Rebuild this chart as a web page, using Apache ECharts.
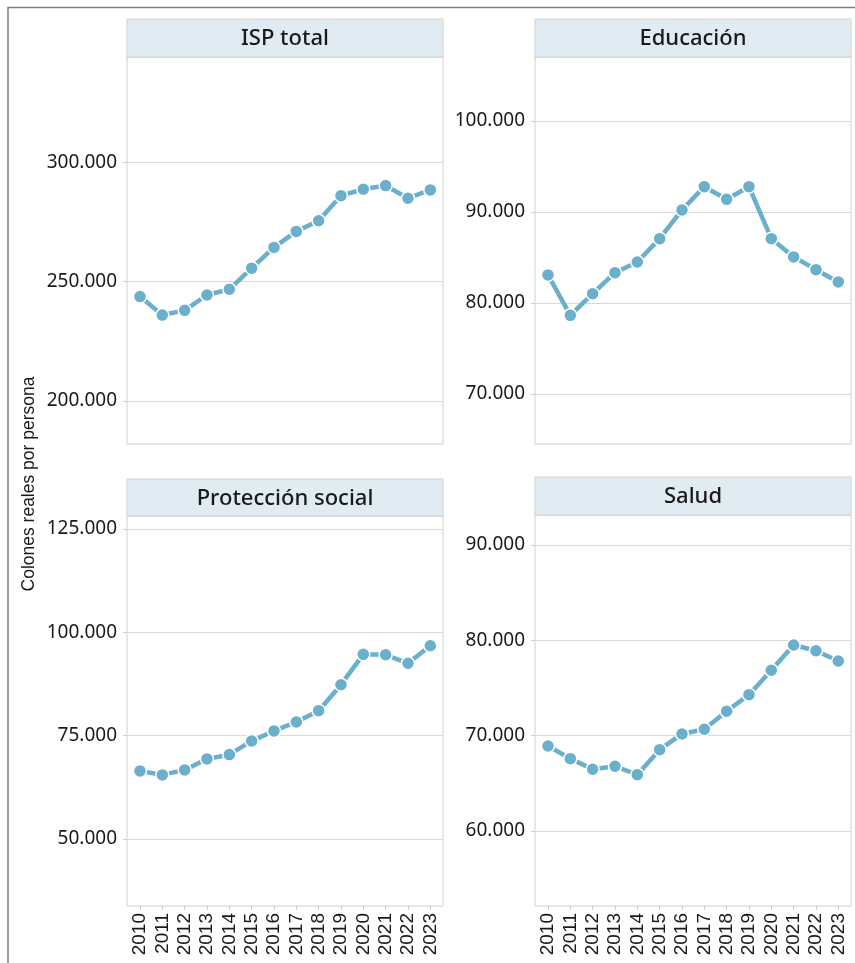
<!DOCTYPE html>
<html>
<head>
<meta charset="utf-8">
<script src="https://cdn.jsdelivr.net/npm/echarts@6/dist/echarts.min.js"></script>
<style>
  html, body { margin: 0; padding: 0; background: #fff; }
  #chart { width: 855px; height: 963px; }
</style>
</head>
<body>
<div id="chart"></div>
<script>
// datos
const years = [2010, 2011, 2012, 2013, 2014, 2015, 2016, 2017, 2018, 2019, 2020, 2021, 2022, 2023];
const ispTotal = [243700, 235970, 237940, 244370, 246770, 255590, 264290, 271000, 275460, 285970, 288650, 290170, 284870, 288360];
const educacion = [83080, 78640, 81020, 83330, 84500, 87070, 90220, 92780, 91390, 92780, 87070, 85060, 83660, 82310];
const proteccion = [66470, 65500, 66710, 69370, 70410, 73720, 76140, 78310, 81040, 87330, 94680, 94580, 92510, 96760];
const salud = [68920, 67590, 66480, 66790, 65910, 68530, 70180, 70670, 72560, 74300, 76860, 79510, 78910, 77830];

const titles = ['ISP total', 'Educación', 'Protección social', 'Salud'];
const ticksIsp = [200000, 250000, 300000];
const ticksEdu = [70000, 80000, 90000, 100000];
const ticksProt = [50000, 75000, 100000, 125000];
const ticksSalud = [60000, 70000, 80000, 90000];

const lineColor = '#6aafcc';
const fmt = v => String(v).replace(/\B(?=(\d{3})+(?!\d))/g, '.');

// paneles: posicion y rango de cada faceta
const panels = [
  { data: ispTotal, ticks: ticksIsp, min: 182000, max: 344000, left: 127, top: 57, height: 387, head: 19, bottom: false },
  { data: educacion, ticks: ticksEdu, min: 64500, max: 107030, left: 535, top: 57, height: 387, head: 19, bottom: false },
  { data: proteccion, ticks: ticksProt, min: 33780, max: 128150, left: 127, top: 516, height: 390, head: 479, bottom: true },
  { data: salud, ticks: ticksSalud, min: 52130, max: 93150, left: 535, top: 515, height: 391, head: 477, bottom: true }
];

let myChart = echarts.init(document.getElementById('chart'));

let grids = [], xAxes = [], yAxes = [], series = [], graphics = [];

panels.forEach((p, i) => {
  grids.push({
    left: p.left, top: p.top, width: 316, height: p.height,
    show: true, borderColor: '#d0d0d0', borderWidth: 1, backgroundColor: '#fff'
  });
  xAxes.push({
    type: 'value', gridIndex: i, min: 2009.418, max: 2023.569,
    axisLine: { show: false },
    splitLine: { show: false },
    axisTick: { show: p.bottom, customValues: years, length: 4, lineStyle: { color: '#cccccc' } },
    axisLabel: {
      show: p.bottom, customValues: years, rotate: 90, margin: 7,
      formatter: v => String(v), fontFamily: 'Liberation Sans', fontSize: 19, color: '#1a1a1a'
    }
  });
  yAxes.push({
    type: 'value', gridIndex: i, min: p.min, max: p.max,
    axisLine: { show: false },
    axisTick: { show: true, customValues: p.ticks, length: 4, lineStyle: { color: '#cccccc' } },
    splitLine: { show: true, lineStyle: { color: '#d9d9d9', width: 1.2 } },
    axisLabel: {
      customValues: p.ticks, formatter: fmt, margin: 10,
      fontFamily: 'Noto Sans', fontSize: 19, color: '#1a1a1a'
    }
  });
  series.push({
    type: 'line', xAxisIndex: i, yAxisIndex: i,
    data: years.map((y, j) => [y, p.data[j]]),
    symbol: 'circle', symbolSize: 13,
    lineStyle: { color: lineColor, width: 4.5 },
    itemStyle: { color: lineColor, borderColor: '#fff', borderWidth: 1.5 },
    silent: true
  });
  // franja del titulo de la faceta
  graphics.push({
    type: 'rect',
    shape: { x: p.left, y: p.head, width: 316, height: p.top - p.head },
    style: { fill: '#e0ecf2', stroke: '#d0d0d0', lineWidth: 1 }
  });
  graphics.push({
    type: 'text',
    style: {
      text: titles[i], x: p.left + 158, y: (p.head + p.top) / 2 + 1,
      textAlign: 'center', textVerticalAlign: 'middle',
      font: '500 22px "Noto Sans"', fill: '#1a1a1a'
    }
  });
});

// marco exterior y titulo del eje y
graphics.push({
  type: 'polyline',
  shape: { points: [[8, 963], [8, 7.5], [855, 7.5]] },
  style: { stroke: '#7f7f7f', lineWidth: 1.5, fill: null }
});
graphics.push({
  type: 'text',
  rotation: Math.PI / 2,
  x: 29, y: 484,
  style: {
    text: 'Colones reales por persona',
    textAlign: 'center', textVerticalAlign: 'middle',
    font: '17.5px "Liberation Sans"', fill: '#1a1a1a'
  }
});

let option = {
  animation: false,
  backgroundColor: '#fff',
  grid: grids,
  xAxis: xAxes,
  yAxis: yAxes,
  series: series,
  graphic: graphics
};

myChart.setOption(option);
</script>
</body>
</html>
